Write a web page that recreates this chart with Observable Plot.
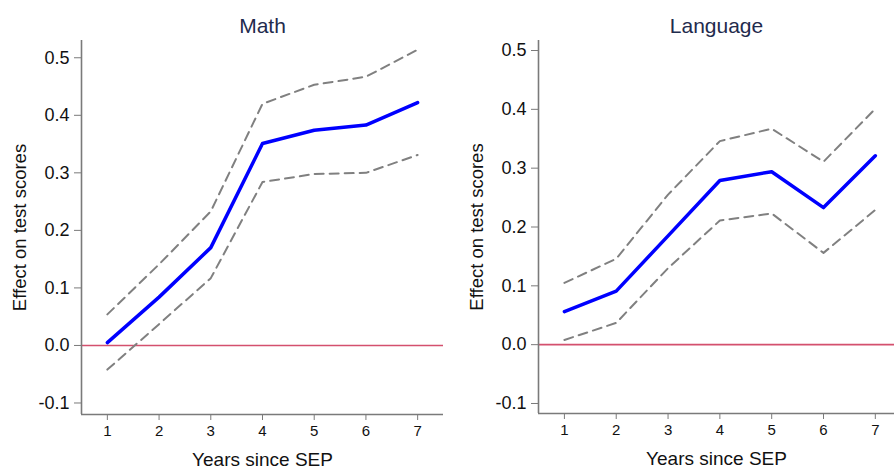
<!DOCTYPE html>
<html>
<head>
<meta charset="utf-8">
<script src="https://cdn.jsdelivr.net/npm/d3@7"></script>
<script src="https://cdn.jsdelivr.net/npm/@observablehq/plot@0.6"></script>
<style>
  html, body { margin: 0; padding: 0; background: #fff; }
  #wrap { display: flex; width: 894px; height: 468px; overflow: hidden; }
</style>
</head>
<body>
<div id="wrap"></div>
<script>
const years = [1, 2, 3, 4, 5, 6, 7];
const xTicks = [1, 2, 3, 4, 5, 6, 7];
const yTicks = [-0.1, 0.0, 0.1, 0.2, 0.3, 0.4, 0.5];

const mathEst   = [0.005, 0.084, 0.170, 0.351, 0.374, 0.383, 0.422];
const mathUpper = [0.054, 0.141, 0.233, 0.420, 0.453, 0.467, 0.514];
const mathLower = [-0.042, 0.037, 0.117, 0.284, 0.298, 0.300, 0.331];

const langEst   = [0.056, 0.091, 0.185, 0.279, 0.294, 0.233, 0.321];
const langUpper = [0.105, 0.146, 0.255, 0.346, 0.367, 0.311, 0.401];
const langLower = [0.008, 0.037, 0.130, 0.211, 0.223, 0.156, 0.229];

const titles = ["Math", "Language"];
const xLabel = "Years since SEP";
const yLabel = "Effect on test scores";

function rows(est, lo, hi) {
  return years.map((y, i) => ({year: y, est: est[i], lo: lo[i], hi: hi[i]}));
}

function panel(title, data, opts) {
  const axisColor = "#7a7a7a";
  return Plot.plot({
    width: 447,
    height: 468,
    marginLeft: opts.marginLeft,
    marginRight: opts.marginRight,
    marginTop: 40,
    marginBottom: opts.marginBottom,
    style: {fontFamily: "Liberation Sans, Arial, Helvetica, sans-serif", background: "#fff", overflow: "visible"},
    x: {domain: opts.xDomain, ticks: xTicks},
    y: {domain: opts.yDomain, ticks: yTicks},
    marks: [
      Plot.ruleY([0], {stroke: "#d4506e", strokeWidth: 1.6}),
      Plot.line(data, {x: "year", y: "hi", stroke: "#808080", strokeWidth: 2, strokeDasharray: "9,6"}),
      Plot.line(data, {x: "year", y: "lo", stroke: "#808080", strokeWidth: 2, strokeDasharray: "9,6"}),
      Plot.line(data, {x: "year", y: "est", stroke: "#0000ff", strokeWidth: 3.5}),
      Plot.ruleX([opts.xDomain[0]], {stroke: axisColor, strokeWidth: 1.6}),
      Plot.ruleY([opts.yDomain[0]], {stroke: axisColor, strokeWidth: 1.6}),
      Plot.axisY({ticks: yTicks, tickFormat: d => d.toFixed(1), tickSize: 7, tickPadding: 5,
        stroke: axisColor, fill: "#111", fontSize: 18, label: null}),
      Plot.axisX({ticks: xTicks, tickFormat: d => String(d), tickSize: 6, tickPadding: 5,
        stroke: axisColor, fill: "#111", fontSize: 15, label: null}),
      Plot.text([title], {frameAnchor: "top", dy: -8, fontSize: 21, fill: "#1f2b4d", lineAnchor: "bottom"}),
      Plot.text([xLabel], {frameAnchor: "bottom", dy: 51, fontSize: 19, fill: "#111", lineAnchor: "bottom"}),
      Plot.text([yLabel], {frameAnchor: "left", textAnchor: "middle", dx: -61, rotate: -90, fontSize: 18.5, fill: "#111"})
    ]
  });
}

const wrap = document.getElementById("wrap");
wrap.appendChild(panel(titles[0], rows(mathEst, mathLower, mathUpper), {
  marginLeft: 81, marginRight: 4, marginBottom: 54,
  xDomain: [0.5, 7.5], yDomain: [-0.12, 0.53]
}));
wrap.appendChild(panel(titles[1], rows(langEst, langLower, langUpper), {
  marginLeft: 91, marginRight: 0, marginBottom: 55,
  xDomain: [0.5, 7.37], yDomain: [-0.117, 0.517]
}));
</script>
</body>
</html>
